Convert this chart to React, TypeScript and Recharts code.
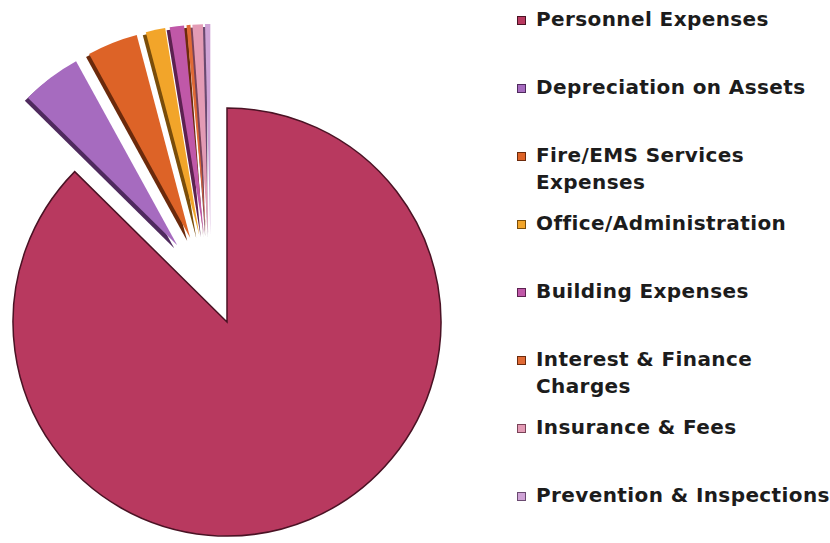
import React from 'react';
import { PieChart, Pie, Cell, Legend } from 'recharts';

const categories = [
  'Personnel Expenses',
  'Depreciation on Assets',
  'Fire/EMS Services Expenses',
  'Office/Administration',
  'Building Expenses',
  'Interest & Finance Charges',
  'Insurance & Fees',
  'Prevention & Inspections',
];

// share of total expenses, percent
const shares = [87.4, 4.6, 3.9, 1.5, 1.1, 0.3, 0.8, 0.4];

// where the legend text breaks onto a second line
const legendLines = [
  ['Personnel Expenses'],
  ['Depreciation on Assets'],
  ['Fire/EMS Services', 'Expenses'],
  ['Office/Administration'],
  ['Building Expenses'],
  ['Interest & Finance', 'Charges'],
  ['Insurance & Fees'],
  ['Prevention & Inspections'],
];

const colors = ['#B8395F', '#A66BBF', '#DD6327', '#F2A52A', '#C058A8', '#E06A35', '#E39BB5', '#CFA3D6'];
const shades = ['#4a1224', '#4f2a5e', '#6b2a0c', '#7a4d0a', '#5c2150', '#6b2a0c', '#7a4358', '#6a4a70'];

const slices = categories.map((name, i) => ({ name, value: shares[i] }));

const total = shares.reduce((a, b) => a + b, 0);

// mid angle of each slice, degrees clockwise from 12 o'clock
const midAngles = shares.map((v, i) => {
  const before = shares.slice(0, i).reduce((a, b) => a + b, 0);
  return ((before + v / 2) / total) * 360;
});

const MAIN_CX = 227;
const MAIN_CY = 322;
const MAIN_R = 214;
const SMALL_R = 210;

const centerFor = (i: number) => {
  if (i === 0) return { cx: MAIN_CX, cy: MAIN_CY };
  const a = (midAngles[i] * Math.PI) / 180;
  return { cx: MAIN_CX - 16 + 56 * Math.sin(a), cy: MAIN_CY - 32 - 56 * Math.cos(a) };
};

const LegendBox = () => (
  <div style={{ position: 'relative', width: 320, height: 543 }}>
    {categories.map((name, i) => (
      <div
        key={name}
        style={{
          position: 'absolute',
          left: 0,
          top: 20 + 68 * i - 14,
          display: 'flex',
          alignItems: 'flex-start',
          fontFamily: '"DejaVu Sans", sans-serif',
          fontWeight: 'bold',
          fontSize: 20,
          letterSpacing: 0.4,
          lineHeight: '27px',
          color: '#1c1c1c',
          textAlign: 'left',
          whiteSpace: 'nowrap',
        }}
      >
        <span
          style={{
            display: 'inline-block',
            width: 9,
            height: 9,
            marginTop: 10,
            marginRight: 10,
            background: colors[i],
            border: `1px solid ${shades[i]}`,
            boxSizing: 'border-box',
          }}
        />
        <div>
          {legendLines[i].map((line) => (
            <div key={line}>{line}</div>
          ))}
        </div>
      </div>
    ))}
  </div>
);

const App = () => {
  const order = [1, 2, 3, 4, 5, 6, 7];
  return (
    <div style={{ position: 'absolute', left: 0, top: 0, width: 830, height: 543, background: '#fff' }}>
      <PieChart width={830} height={543} margin={{ top: 0, right: 0, bottom: 0, left: 0 }}>
        {/* dark sides of the pulled-out wedges */}
        {order.map((i) => {
          const c = centerFor(i);
          return (
            <Pie
              key={`shade-${i}`}
              data={slices}
              dataKey="value"
              nameKey="name"
              cx={c.cx - 3}
              cy={c.cy + 3}
              outerRadius={SMALL_R}
              startAngle={90}
              endAngle={-270}
              isAnimationActive={false}
              legendType="none"
            >
              {slices.map((s, j) => (
                <Cell key={s.name} fill={j === i ? shades[i] : 'transparent'} stroke="none" />
              ))}
            </Pie>
          );
        })}
        {order.map((i) => {
          const c = centerFor(i);
          return (
            <Pie
              key={`slice-${i}`}
              data={slices}
              dataKey="value"
              nameKey="name"
              cx={c.cx}
              cy={c.cy}
              outerRadius={SMALL_R}
              startAngle={90}
              endAngle={-270}
              isAnimationActive={false}
              legendType="none"
            >
              {slices.map((s, j) => (
                <Cell key={s.name} fill={j === i ? colors[i] : 'transparent'} stroke="none" />
              ))}
            </Pie>
          );
        })}
        <Pie
          data={slices}
          dataKey="value"
          nameKey="name"
          cx={MAIN_CX}
          cy={MAIN_CY}
          outerRadius={MAIN_R}
          startAngle={90}
          endAngle={-270}
          isAnimationActive={false}
          legendType="none"
        >
          {slices.map((s, j) => (
            <Cell
              key={s.name}
              fill={j === 0 ? colors[0] : 'transparent'}
              stroke={j === 0 ? shades[0] : 'none'}
              strokeWidth={1.5}
            />
          ))}
        </Pie>
        <Legend
          content={() => <LegendBox />}
          wrapperStyle={{ position: 'absolute', left: 517, top: 0, width: 320, height: 543 }}
        />
      </PieChart>
    </div>
  );
};

export default App;
